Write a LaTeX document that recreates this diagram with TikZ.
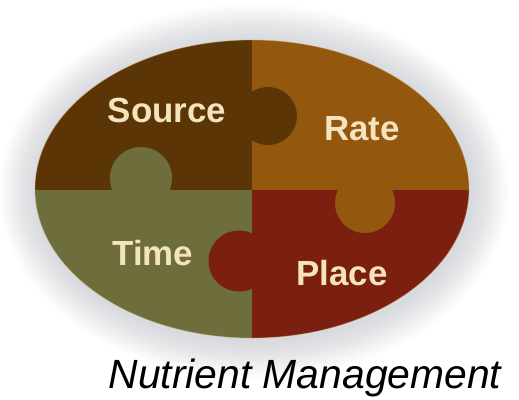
\documentclass[tikz,border=0pt]{standalone}
\usepackage{fontspec}
\setmainfont{Liberation Sans}
\usetikzlibrary{positioning}

\definecolor{srcbrown}{HTML}{5C3507}
\definecolor{ratebrown}{HTML}{93570D}
\definecolor{timeolive}{HTML}{6D6E3C}
\definecolor{placered}{HTML}{7B1F10}
\definecolor{cream}{HTML}{F4E4BE}
\definecolor{halo}{HTML}{9A9DA6}

\begin{document}
\begin{tikzpicture}[x=1bp, y=-1bp,
            piece/.style={draw=none},
            tab/.style={draw=none},
            word/.style={text=cream, font=\bfseries\fontsize{35}{35}\selectfont, inner sep=0pt},
            caption/.style={text=black, font=\itshape\fontsize{41}{41}\selectfont, inner sep=0pt}
        ]
            \useasboundingbox (0,0) rectangle (519,399);
            \fill[white] (0,0) rectangle (519,399);

            % Soft halo round the puzzle
            \foreach \s in {1,...,14}
                \fill[halo, opacity=0.028] (254,191) ellipse ({217+2.7*\s} and {149+2.7*\s});

            \begin{scope}
                \clip (252,189) ellipse (217 and 149);

                % Four pieces
                \fill[piece, srcbrown] (30,35) rectangle (252,190);
                \fill[piece, ratebrown] (252,35) rectangle (475,190);
                \fill[piece, timeolive] (30,190) rectangle (252,345);
                \fill[piece, placered] (252,190) rectangle (475,345);

                % Tabs
                \fill[tab, srcbrown] (268,116) circle (29);
                \fill[tab, timeolive] (141,178) circle (31);
                \fill[tab, ratebrown] (365,203) circle (30);
                \fill[tab, placered] (239,261) circle (30.5);
            \end{scope}

            % Rim
            \draw[cream!60!ratebrown, opacity=0.45, line width=0.8bp] (252,189) ellipse (217 and 149);

            % Labels
            \node[word] (source) at (167,110) {Source};
            \node[word] (rate) at (362,129) {Rate};
            \node[word] (time) at (153,253) {Time};
            \node[word] (place) at (342,273) {Place};

            \node[caption, anchor=base] (title) at (305,388) {Nutrient Management};
        \end{tikzpicture}
\end{document}
